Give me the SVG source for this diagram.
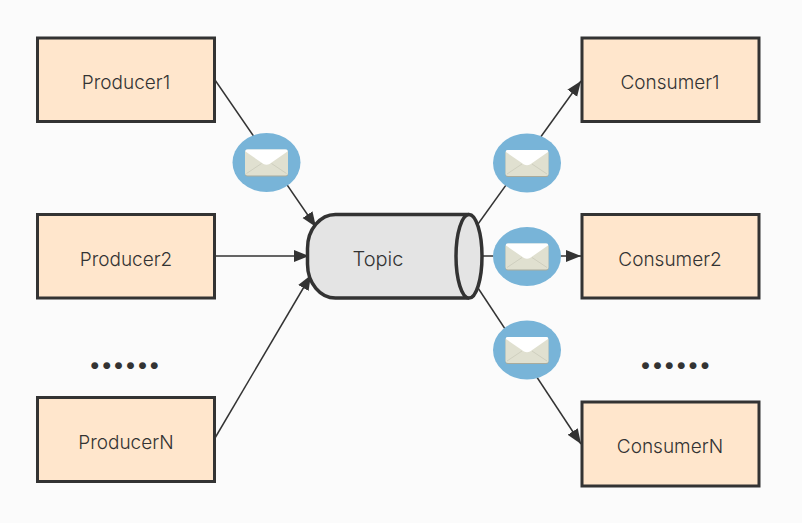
<svg xmlns="http://www.w3.org/2000/svg" width="802" height="523" viewBox="0 0 802 523">
<style>
.box{fill:#ffe6cc;stroke:#333;stroke-width:3}
.lbl{font-family:"Inter","Noto Sans",sans-serif;font-weight:300;font-size:19px;fill:#333;text-anchor:middle}
.dots{font-family:"Lato",sans-serif;font-weight:900;font-size:42px;fill:#333;letter-spacing:1.9px}
.conn{fill:none;stroke:#333;stroke-width:1.5;marker-end:url(#arrow)}
.cyl{fill:#e4e4e4;stroke:#333;stroke-width:3.5}
</style>
<defs>
<marker id="arrow" markerUnits="userSpaceOnUse" markerWidth="16" markerHeight="13" refX="15" refY="6.500" orient="auto"><path d="M0 0.500L15 6.500L0 12.500z" fill="#333"/></marker>
<g id="msg">
<ellipse cx="0" cy="0" rx="34" ry="29.500" fill="#78b4d8"/>
<rect x="-21.500" y="-12" width="43" height="26" rx="2.500" fill="#a9ab9c"/>
<rect x="-21.500" y="-13" width="43" height="26" rx="2.500" fill="#e0e0d0"/>
<path d="M-20 11L-5 1M20 11L5 1" stroke="#cfcfbf" stroke-width="1" fill="none"/>
<path d="M-21 -11Q-21.500 -13 -19 -13H19Q21.500 -13 21 -11L3 1.500Q0 3 -3 1.500z" fill="#fff"/>
</g>
</defs>
<rect width="802" height="523" fill="#fbfbfb"/>
<g id="connectors">
<path class="conn" d="M215 80L316 227"/>
<path class="conn" d="M215 256L309 256"/>
<path class="conn" d="M215 438L311 275"/>
<path class="conn" d="M478 224L581 81"/>
<path class="conn" d="M483 256L581 256"/>
<path class="conn" d="M478 288L581 444"/>
</g>
<g id="producer1"><rect class="box" x="37.500" y="38" width="177" height="83.500"/><text class="lbl" x="126" y="89">Producer1</text></g>
<g id="producer2"><rect class="box" x="37.500" y="214.500" width="177" height="83.500"/><text class="lbl" x="126" y="266">Producer2</text></g>
<g id="producerN"><rect class="box" x="37.500" y="397.500" width="177" height="84"/><text class="lbl" x="126" y="449">ProducerN</text></g>
<g id="consumer1"><rect class="box" x="582" y="38" width="177" height="83.500"/><text class="lbl" x="670" y="89">Consumer1</text></g>
<g id="consumer2"><rect class="box" x="582" y="214.500" width="177" height="83.500"/><text class="lbl" x="670" y="266">Consumer2</text></g>
<g id="consumerN"><rect class="box" x="582" y="402" width="177" height="84"/><text class="lbl" x="670" y="453">ConsumerN</text></g>
<g id="topic">
<path class="cyl" d="M469 214.500H336A28 34 0 0 0 307.500 248.500V264A28 34 0 0 0 336 298H469"/>
<ellipse class="cyl" cx="469" cy="256.300" rx="13" ry="41.800"/>
<text class="lbl" x="378" y="266" style="font-size:20px">Topic</text>
</g>
<text id="dotsL" class="dots" x="89.800" y="369">......</text>
<text id="dotsR" class="dots" x="640.500" y="369">......</text>
<use id="msg1" href="#msg" x="266.500" y="162.500"/>
<use id="msg2" href="#msg" x="527" y="163"/>
<use id="msg3" href="#msg" x="527" y="256.500"/>
<use id="msg4" href="#msg" x="527" y="350"/>
</svg>
